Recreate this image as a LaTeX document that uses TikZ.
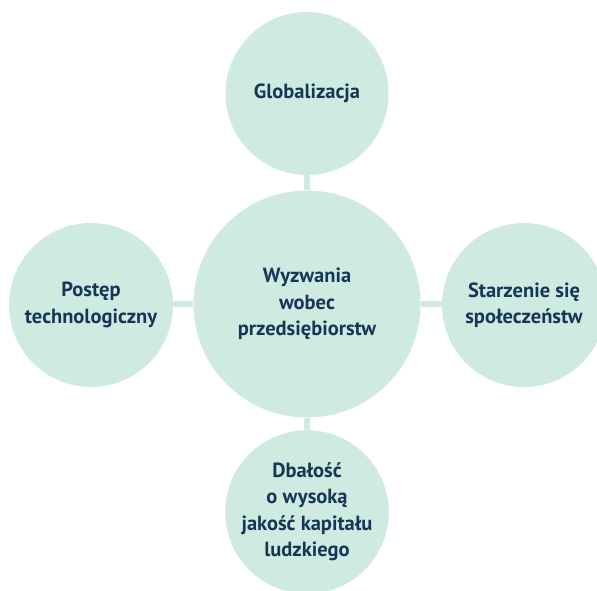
\documentclass[tikz,border=0pt]{standalone}
\usepackage{fontspec}
\setmainfont{PT Sans}
\definecolor{mint}{RGB}{207,234,224}
\definecolor{navy}{RGB}{22,54,88}
\begin{document}
\begin{tikzpicture}[x=1pt,y=1pt,
  bubble/.style={circle,fill=mint,draw=none,inner sep=0pt,align=center,
    text=navy,font=\fontsize{20.5}{26.5}\selectfont\bfseries},
  link/.style={draw=mint,line width=6pt}]
\clip (0,0) rectangle (597,-590);
\useasboundingbox (0,0) rectangle (597,-590);
\node[bubble,minimum size=227pt] (c) at (307,-304) {Wyzwania\\wobec\\przedsiębiorstw};
\node[bubble,minimum size=163pt] (t) at (307,-93.5) {Globalizacja};
\node[bubble,minimum size=163pt] (b) at (307,-512) {Dbałość\\o wysoką\\jakość kapitału\\ludzkiego};
\node[bubble,minimum size=164pt] (l) at (91,-305) {Postęp\\technologiczny};
\node[bubble,minimum size=164pt] (r) at (524,-305) {Starzenie się\\społeczeństw};
\draw[link] (c) -- (t);
\draw[link] (c) -- (b);
\draw[link] (c.west) -- (l);
\draw[link] (c.east) -- (r);
\end{tikzpicture}
\end{document}
